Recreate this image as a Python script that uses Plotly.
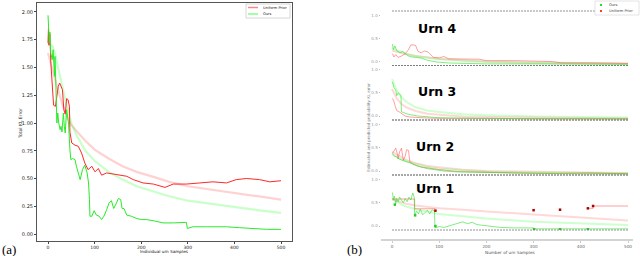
import plotly.graph_objects as go

W, H = 640, 256

# ---------------- panel (a) data ----------------
a_x_uniform = [0, 1, 2, 4, 6, 8, 10, 12, 16, 19, 22, 25, 28, 31, 34, 37, 40, 43, 46, 47,
               51, 58, 65, 72, 79, 86, 94, 101, 108, 115, 126, 140, 154, 169, 183, 204, 226, 251, 269, 297,
               326, 354, 383, 404, 426, 454, 476, 500]
a_uniform = [1.72, 1.85, 1.70, 1.80, 1.55, 1.40, 1.22, 1.16, 1.15, 1.25, 1.33, 1.36, 1.32, 1.30, 1.12, 1.08, 1.22, 1.21, 1.15, 0.92,
             0.82, 0.80, 0.79, 0.73, 0.64, 0.58, 0.61, 0.56, 0.59, 0.53, 0.55, 0.54, 0.53, 0.52, 0.49, 0.46, 0.45, 0.42, 0.45, 0.45,
             0.46, 0.47, 0.46, 0.49, 0.50, 0.49, 0.47, 0.48]
a_x_ours = [0, 1, 3, 4, 6, 9, 11, 14, 15, 17, 19, 21, 23, 26, 28, 30, 33, 35, 37, 40,
            42, 44, 47, 49, 53, 58, 61, 69, 74, 79, 84, 87, 89, 90, 94, 99, 104, 110, 115, 120,
            126, 131, 136, 141, 147, 151, 156, 159, 163, 169, 179, 190, 201, 211, 226, 236, 247, 269, 297, 299,
            311, 340, 383, 411, 440, 469, 500]
a_ours = [1.97, 1.87, 1.72, 1.82, 1.63, 1.57, 1.66, 1.42, 1.60, 1.33, 1.00, 1.09, 1.00, 0.94, 0.97, 0.92, 1.09, 0.97, 0.91, 1.12,
          1.06, 1.00, 0.76, 0.67, 0.68, 0.67, 0.61, 0.49, 0.58, 0.62, 0.55, 0.46, 0.31, 0.16, 0.16, 0.21, 0.17, 0.16, 0.13, 0.16,
          0.22, 0.28, 0.30, 0.23, 0.28, 0.32, 0.31, 0.23, 0.23, 0.17, 0.16, 0.14, 0.13, 0.13, 0.12, 0.11, 0.10, 0.10, 0.105, 0.05,
          0.065, 0.065, 0.065, 0.057, 0.048, 0.042, 0.042]
a_x_fit = [0, 5, 10, 15, 20, 30, 40, 50, 60, 80, 100, 130, 160, 190, 230, 260, 300, 350, 400, 450, 500]
a_fit_uniform = [1.63, 1.55, 1.47, 1.39, 1.32, 1.18, 1.06, 0.98, 0.93, 0.84, 0.76, 0.68, 0.61, 0.56, 0.51, 0.47, 0.43, 0.40, 0.37, 0.34, 0.31]
a_fit_ours = [1.72, 1.71, 1.69, 1.63, 1.53, 1.33, 1.16, 1.00, 0.90, 0.75, 0.66, 0.56, 0.49, 0.43, 0.38, 0.34, 0.30, 0.27, 0.24, 0.215, 0.19]
a_xticks = [0, 100, 200, 300, 400, 500]
a_yticks = [0.0, 0.25, 0.5, 0.75, 1.0, 1.25, 1.5, 1.75, 2.0]

# ---------------- panel (b) data ----------------
b_xticks = [0, 100, 200, 300, 400, 500]
b_yticks = [0.0, 0.5, 1.0]
b_x_limits = [0, 500]
b_x_fit = [0, 10, 20, 30, 50, 75, 100, 150, 200, 300, 400, 500]
urn_names = ["Urn 4", "Urn 3", "Urn 2", "Urn 1"]

u4_x_ours = [1, 3, 6, 10, 14, 17, 22, 28, 35, 42, 50, 60, 75, 95, 120, 150, 200, 300, 400, 500]
u4_ours = [0.38, 0.26, 0.34, 0.24, 0.21, 0.19, 0.22, 0.17, 0.12, 0.10, 0.09, 0.08, 0.03, -0.01, -0.03, -0.04, -0.05, -0.05, -0.06, -0.06]
u4_x_unif = [1, 4, 8, 13, 20, 28, 35, 40, 45, 50, 55, 62, 68, 72, 76, 82, 88, 100, 110, 120,
             145, 185, 200, 260, 340, 360, 420, 500]
u4_unif = [0.17, 0.10, 0.15, 0.09, 0.12, 0.17, 0.26, 0.36, 0.36, 0.35, 0.22, 0.19, 0.23, 0.22, 0.21, 0.15, 0.09, 0.08, 0.11, 0.06,
           0.05, 0.05, 0.02, 0.02, 0.00, -0.03, -0.03, -0.04]
u4_fit_unif = [0.24, 0.21, 0.18, 0.16, 0.12, 0.09, 0.06, 0.03, 0.00, -0.02, -0.03, -0.04]
u4_fit_ours = [0.29, 0.24, 0.21, 0.17, 0.12, 0.08, 0.05, 0.02, -0.01, -0.03, -0.04, -0.05]

u3_x_ours = [1, 4, 8, 10, 13, 16, 19, 20, 24, 30, 40, 55, 70, 90, 120, 160, 220, 300, 400, 500]
u3_ours = [0.74, 0.62, 0.56, 0.44, 0.50, 0.48, 0.44, 0.09, 0.08, 0.05, 0.03, 0.00, -0.01, -0.03, -0.04, -0.05, -0.05, -0.06, -0.06, -0.06]
u3_x_unif = [1, 4, 7, 10, 14, 20, 28, 38, 50, 70, 100, 150, 200, 300, 400, 500]
u3_unif = [0.38, 0.32, 0.21, 0.12, 0.10, 0.05, 0.00, -0.02, -0.03, -0.04, -0.05, -0.05, -0.05, -0.06, -0.06, -0.06]
u3_fit_unif = [0.59, 0.38, 0.26, 0.19, 0.11, 0.05, 0.03, -0.01, -0.02, -0.03, -0.04, -0.05]
u3_fit_ours = [0.80, 0.56, 0.41, 0.31, 0.19, 0.12, 0.09, 0.04, 0.02, -0.01, -0.02, -0.03]

u2_x_ours = [1, 5, 10, 15, 22, 30, 40, 50, 60, 75, 90, 110, 140, 180, 230, 300, 400, 500]
u2_ours = [0.38, 0.32, 0.30, 0.26, 0.23, 0.21, 0.17, 0.12, 0.09, 0.05, 0.03, 0.00, -0.02, -0.03, -0.04, -0.05, -0.06, -0.06]
u2_x_unif = [1, 5, 8, 11, 13, 16, 20, 24, 28, 31, 35, 38, 45, 60, 80, 100, 140, 200, 260, 350, 420, 500]
u2_unif = [0.38, 0.44, 0.49, 0.38, 0.26, 0.41, 0.49, 0.23, 0.32, 0.46, 0.44, 0.19, 0.15, 0.09, 0.06, 0.03, -0.01, -0.03, -0.04, -0.05, -0.04, -0.06]
u2_fit_unif = [0.41, 0.35, 0.29, 0.24, 0.17, 0.11, 0.08, 0.03, 0.00, -0.02, -0.03, -0.04]
u2_fit_ours = [0.36, 0.30, 0.25, 0.21, 0.15, 0.09, 0.05, 0.02, -0.01, -0.03, -0.04, -0.05]

u1_x_ours = [1, 3, 5, 8, 10, 13, 16, 20, 24, 28, 32, 36, 40, 44, 47, 48, 52, 56, 60, 65,
             70, 75, 80, 85, 90, 91, 95, 100, 110, 120, 130, 140, 150, 160, 170, 180, 200, 230, 260, 300,
             301, 350, 400, 450, 500]
u1_ours = [0.72, 0.56, 0.64, 0.48, 0.59, 0.52, 0.62, 0.56, 0.50, 0.59, 0.52, 0.62, 0.56, 0.71, 0.62, 0.23, 0.32, 0.26, 0.36, 0.24,
           0.30, 0.34, 0.26, 0.35, 0.32, -0.03, -0.03, -0.01, -0.03, 0.00, 0.03, 0.05, 0.09, 0.05, 0.08, 0.03, 0.00, -0.03, -0.04, -0.04,
           -0.06, -0.06, -0.06, -0.06, -0.06]
u1_x_unif = [0, 48, 48, 92, None, 415, 426, 426, 500]
u1_unif = [0.58, 0.58, 0.37, 0.37, None, 0.38, 0.38, 0.43, 0.43]
u1_fit_unif = [0.57, 0.54, 0.50, 0.48, 0.44, 0.41, 0.38, 0.35, 0.31, 0.25, 0.18, 0.12]
u1_fit_ours = [0.59, 0.52, 0.46, 0.42, 0.36, 0.31, 0.26, 0.21, 0.16, 0.09, 0.05, 0.02]
u1_x_ours_pts = [6, 49, 92, 301, 356, 415]
u1_ours_pts = [0.46, 0.23, 0.00, -0.07, -0.07, -0.07]
u1_x_unif_pts = [92, 300, 356, 415, 426]
u1_unif_pts = [0.33, 0.34, 0.35, 0.38, 0.43]

urn_ours_x = [u4_x_ours, u3_x_ours, u2_x_ours, u1_x_ours]
urn_ours = [u4_ours, u3_ours, u2_ours, u1_ours]
urn_unif_x = [u4_x_unif, u3_x_unif, u2_x_unif, u1_x_unif]
urn_unif = [u4_unif, u3_unif, u2_unif, u1_unif]
urn_fit_unif = [u4_fit_unif, u3_fit_unif, u2_fit_unif, u1_fit_unif]
urn_fit_ours = [u4_fit_ours, u3_fit_ours, u2_fit_ours, u1_fit_ours]


def fx(p):
    return p / W


def fy(p):
    return 1 - p / H


RED = "rgb(255,40,40)"
GREEN = "rgb(40,235,40)"
PALE_RED = "rgba(255,90,90,0.28)"
PALE_GREEN = "rgba(60,255,60,0.28)"

fig = go.Figure()

# ---- panel (a) traces ----
fig.add_trace(go.Scatter(x=a_x_fit, y=a_fit_uniform, mode="lines", line=dict(color=PALE_RED, width=2.2),
                         xaxis="x", yaxis="y", showlegend=False))
fig.add_trace(go.Scatter(x=a_x_fit, y=a_fit_ours, mode="lines", line=dict(color=PALE_GREEN, width=2.2),
                         xaxis="x", yaxis="y", showlegend=False))
fig.add_trace(go.Scatter(x=a_x_uniform, y=a_uniform, mode="lines", line=dict(color=RED, width=1),
                         xaxis="x", yaxis="y", showlegend=False))
fig.add_trace(go.Scatter(x=a_x_ours, y=a_ours, mode="lines", line=dict(color=GREEN, width=1),
                         xaxis="x", yaxis="y", showlegend=False))

# ---- panel (b) traces ----
urn_tops = [11, 65.5, 120, 175]
urn_bottoms = [65.5, 120, 175, 230]
yrange_b = [-0.085, 1.095]

shapes = []
annotations = []
layout_axes = {}

for i in range(4):
    yname = "y%d" % (i + 2)
    fig.add_trace(go.Scatter(x=b_x_fit, y=urn_fit_unif[i], mode="lines",
                             line=dict(color="rgba(255,100,100,0.25)", width=2),
                             xaxis="x2", yaxis=yname, showlegend=False))
    fig.add_trace(go.Scatter(x=b_x_fit, y=urn_fit_ours[i], mode="lines",
                             line=dict(color="rgba(80,255,80,0.28)", width=2),
                             xaxis="x2", yaxis=yname, showlegend=False))
    fig.add_trace(go.Scatter(x=urn_unif_x[i], y=urn_unif[i], mode="lines",
                             line=dict(color="rgba(255,60,60,0.55)", width=0.9),
                             xaxis="x2", yaxis=yname, showlegend=False))
    fig.add_trace(go.Scatter(x=urn_ours_x[i], y=urn_ours[i], mode="lines",
                             line=dict(color="rgba(40,225,40,0.65)", width=0.9),
                             xaxis="x2", yaxis=yname, showlegend=False))
    layout_axes["yaxis%d" % (i + 2)] = dict(
        domain=[fy(urn_bottoms[i]), fy(urn_tops[i])], range=yrange_b, anchor="x2",
        tickvals=b_yticks, ticktext=["%.1f" % v for v in b_yticks],
        tickfont=dict(size=4, color="#999"), ticks="outside", ticklen=1.5, tickcolor="#bbb",
        showgrid=False, zeroline=False, showline=False, fixedrange=True)
    for yv in (0, 1):
        shapes.append(dict(type="line", xref="x2", yref="%s domain" % yname,
                           x0=b_x_limits[0], x1=b_x_limits[1], y0=yv, y1=yv,
                           line=dict(color="#777", width=0.8, dash="2px,1px")))
    annotations.append(dict(text="<b>%s</b>" % urn_names[i], xref="x2", yref="%s domain" % yname,
                            x=[96, 96, 92, 92][i], y=[0.68, 0.52, 0.51, 0.75][i],
                            showarrow=False, font=dict(family="DejaVu Sans", size=12.5, color="black"),
                            xanchor="center", yanchor="middle"))

fig.add_trace(go.Scatter(x=u1_x_ours_pts, y=u1_ours_pts, mode="markers",
                         marker=dict(color="rgb(40,200,40)", size=2.5, symbol="square"),
                         xaxis="x2", yaxis="y5", showlegend=False))
fig.add_trace(go.Scatter(x=u1_x_unif_pts, y=u1_unif_pts, mode="markers",
                         marker=dict(color="rgb(170,0,0)", size=2.5, symbol="square"),
                         xaxis="x2", yaxis="y5", showlegend=False))

# ---- legends (drawn by hand, in pixel positions) ----
shapes.append(dict(type="rect", xref="paper", yref="paper", x0=fx(246), x1=fx(290), y0=fy(18), y1=fy(4),
                   line=dict(color="#ccc", width=0.8), fillcolor="white"))
shapes.append(dict(type="line", xref="paper", yref="paper", x0=fx(248), x1=fx(258), y0=fy(7.5), y1=fy(7.5),
                   line=dict(color="rgba(255,80,80,0.7)", width=1.5)))
shapes.append(dict(type="line", xref="paper", yref="paper", x0=fx(248), x1=fx(258), y0=fy(14), y1=fy(14),
                   line=dict(color="rgba(80,255,80,0.7)", width=1.5)))
annotations.append(dict(text="Uniform Prior", xref="paper", yref="paper", x=fx(260.5), y=fy(7.5),
                        showarrow=False, xanchor="left", yanchor="middle", font=dict(size=3.6, color="#222")))
annotations.append(dict(text="Ours", xref="paper", yref="paper", x=fx(260.5), y=fy(14),
                        showarrow=False, xanchor="left", yanchor="middle", font=dict(size=3.6, color="#222")))

shapes.append(dict(type="rect", xref="paper", yref="paper", x0=fx(595), x1=fx(639), y0=fy(15), y1=fy(1),
                   line=dict(color="#ddd", width=0.8), fillcolor="white"))
shapes.append(dict(type="rect", xref="paper", yref="paper", x0=fx(600), x1=fx(602), y0=fy(6), y1=fy(4),
                   line=dict(width=0), fillcolor="rgb(40,220,40)"))
shapes.append(dict(type="rect", xref="paper", yref="paper", x0=fx(600), x1=fx(602), y0=fy(12), y1=fy(10),
                   line=dict(width=0), fillcolor="rgb(255,60,60)"))
annotations.append(dict(text="Ours", xref="paper", yref="paper", x=fx(607), y=fy(5),
                        showarrow=False, xanchor="left", yanchor="middle", font=dict(size=3.6, color="#444")))
annotations.append(dict(text="Uniform Prior", xref="paper", yref="paper", x=fx(607), y=fy(11),
                        showarrow=False, xanchor="left", yanchor="middle", font=dict(size=3.6, color="#444")))

# ---- axis titles and panel labels ----
annotations += [
    dict(text="Total KL Error", xref="paper", yref="paper", x=fx(20), y=fy(124), textangle=-90,
         showarrow=False, xanchor="center", yanchor="middle", font=dict(size=4.5, color="#111")),
    dict(text="Individual urn Samples", xref="paper", yref="paper", x=fx(164), y=fy(251.8),
         showarrow=False, xanchor="center", yanchor="middle", font=dict(size=4.2, color="#111")),
    dict(text="Estimated and predicted probability KL error", xref="paper", yref="paper", x=fx(368), y=fy(128),
         textangle=-90, showarrow=False, xanchor="center", yanchor="middle", font=dict(size=4, color="#777")),
    dict(text="Number of urn Samples", xref="paper", yref="paper", x=fx(510), y=fy(252.3),
         showarrow=False, xanchor="center", yanchor="middle", font=dict(size=4.2, color="#555")),
    dict(text="(a)", xref="paper", yref="paper", x=fx(0), y=fy(249.5), showarrow=False,
         xanchor="left", yanchor="middle", font=dict(family="Liberation Serif", size=13, color="black")),
    dict(text="(b)", xref="paper", yref="paper", x=fx(345), y=fy(249.5), showarrow=False,
         xanchor="left", yanchor="middle", font=dict(family="Liberation Serif", size=13, color="black")),
]

fig.update_layout(
    width=W, height=H, margin=dict(l=0, r=0, t=0, b=0),
    paper_bgcolor="white", plot_bgcolor="rgba(0,0,0,0)",
    font=dict(family="DejaVu Sans"),
    showlegend=False,
    xaxis=dict(domain=[fx(37), fx(292)], range=[-23.6, 523.6], anchor="y",
               tickvals=a_xticks, ticktext=[str(v) for v in a_xticks],
               tickfont=dict(size=4.5, color="#222"), ticks="outside", ticklen=1.5, tickcolor="#444",
               showline=True, mirror=True, linecolor="#555", linewidth=1,
               showgrid=False, zeroline=False, fixedrange=True),
    yaxis=dict(domain=[fy(241), fy(3)], range=[-0.063, 2.081], anchor="x",
               tickvals=a_yticks, ticktext=["%.2f" % v for v in a_yticks],
               tickfont=dict(size=5, color="#222"), ticks="outside", ticklen=2, tickcolor="#444",
               showline=True, mirror=True, linecolor="#555", linewidth=1,
               showgrid=False, zeroline=False, fixedrange=True),
    xaxis2=dict(domain=[fx(381), fx(633)], range=[-23.3, 510.6], anchor="free", position=fy(240),
                tickvals=b_xticks, ticktext=[str(v) for v in b_xticks],
                tickfont=dict(size=4.2, color="#666"), ticks="outside", ticklen=1.5, tickcolor="#ccc",
                showline=True, linecolor="#d4d4d4", linewidth=2,
                showgrid=False, zeroline=False, fixedrange=True),
    shapes=shapes,
    annotations=annotations,
    **layout_axes,
)

fig.write_html("out.html", config={"displayModeBar": False},
               post_script="document.body.style.margin='0';document.body.style.overflow='hidden';")
